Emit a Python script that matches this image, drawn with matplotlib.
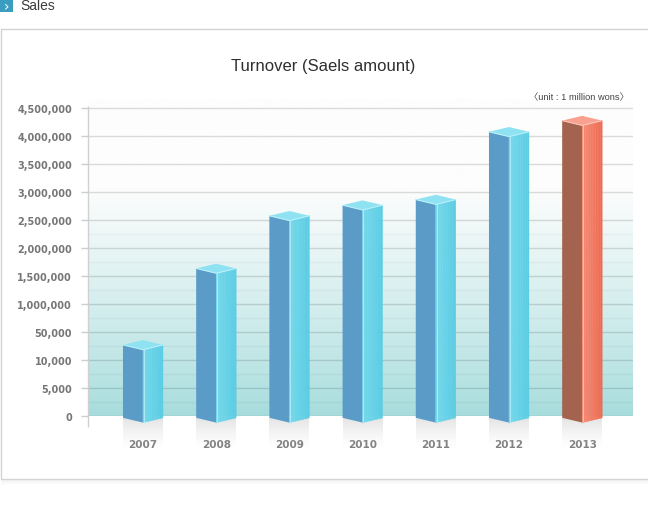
import numpy as np
import matplotlib
matplotlib.use('Agg')
import matplotlib.pyplot as plt
from matplotlib.patches import Polygon, Rectangle
from matplotlib.colors import to_rgb

# data
years = ['2007', '2008', '2009', '2010', '2011', '2012', '2013']
sales = [32000, 1640000, 2580000, 2770000, 2870000, 4080000, 4280000]
tick_values = [0, 5000, 10000, 50000, 1000000, 1500000, 2000000,
               2500000, 3000000, 3500000, 4000000, 4500000]
tick_labels = ['0', '5,000', '10,000', '50,000', '1,000,000', '1,500,000',
               '2,000,000', '2,500,000', '3,000,000', '3,500,000',
               '4,000,000', '4,500,000']
highlight_year = '2013'

W, H = 648, 510
fig = plt.figure(figsize=(W / 100, H / 100), dpi=100)
fig.patch.set_facecolor('white')


def fx(x):
    return x / W


def fy(y):
    return 1 - y / H


# header + panel
fig.patches.append(Rectangle((fx(0), fy(13)), fx(13), 13 / H, transform=fig.transFigure,
                             facecolor='#3b9ec1', edgecolor='none', zorder=-2))
fig.text(fx(6.5), fy(7), '›', color='white', fontsize=10, ha='center', va='center')
fig.text(fx(20), fy(6), 'Sales', color='#3c3c3c', fontsize=10,
         family='Liberation Sans', ha='left', va='center')
for k in range(6):
    fig.patches.append(Rectangle((fx(1), fy(481 + k)), fx(650), 1 / H, transform=fig.transFigure,
                                 facecolor='#000000', alpha=0.05 * (1 - k / 6),
                                 edgecolor='none', zorder=-2))
fig.patches.append(Rectangle((fx(0.5), fy(480)), fx(660), 450.5 / H, transform=fig.transFigure,
                             facecolor='white', edgecolor='#d4d4d4', lw=1, zorder=-1))
fig.text(fx(323), fy(67), 'Turnover (Saels amount)', color='#2e2e2e', fontsize=12,
         family='Liberation Sans', ha='center', va='center')
fig.text(fx(629), fy(98), '〈unit : 1 million wons〉', color='#444444', fontsize=6.7,
         family=['Liberation Sans', 'Noto Sans CJK KR'], ha='right', va='center')

# axes geometry
step_px = 28.0
zero_px = 417.3
top_px = 100
ax = fig.add_axes([fx(88), fy(zero_px), fx(545), (zero_px - top_px) / H])
ax.set_zorder(2)
ytop = (zero_px - top_px) / step_px
xmin = -0.751
xmax = xmin + 545 / 73.2
ax.set_xlim(xmin, xmax)
ax.set_ylim(0, ytop)
for s in ax.spines.values():
    s.set_visible(False)

# background gradient
t = np.linspace(0, 1, 300)
f = np.clip(t / 0.72, 0, 1) ** 0.85
bot = np.array(to_rgb('#a6dcdc'))
top = np.array(to_rgb('#fdfdfd'))
grad = bot[None, :] + (top - bot)[None, :] * f[:, None]
ax.imshow(grad[:, None, :], extent=[xmin, xmax, 0, ytop], aspect='auto',
          origin='lower', zorder=0, interpolation='bilinear')

levels = np.arange(len(tick_values))
grid_top = np.array(to_rgb('#dadada'))
grid_bot = np.array(to_rgb('#8ebfc3'))
for k in levels:
    u = min(1, (k / 8.0)) ** 0.9
    c = grid_bot + (grid_top - grid_bot) * u
    ax.axhline(k, color=c, lw=1, zorder=1)
    if k < 7:
        ax.axhline(k + 0.5, color=c, lw=1, alpha=0.25, zorder=1)

ax.vlines(xmin, -0.39, 11.07, color='#d0d0d0', lw=1, clip_on=False, zorder=1)

ax.set_yticks(levels, tick_labels)
ax.tick_params(axis='y', length=5, width=1, color='#c8cfcf', pad=6.5,
               labelsize=7, labelcolor='#767676')
ax.set_xticks(range(len(years)), years)
ax.tick_params(axis='x', length=0, pad=16.5, labelsize=7.5, labelcolor='#808080')
for lab in ax.get_yticklabels() + ax.get_xticklabels():
    lab.set_fontweight('bold')

# 3d bars
heights = np.interp(sales, tick_values, levels)
w = 40 / 73.2 / 2
d = 4.8 / step_px
b = -1.5 / step_px
blue = dict(left='#5b9bc7', r0='#74d8eb', r1='#5bcde4', cap='#8fe2f1', hi='#b9f0fa')
red = dict(left='#a3634e', r0='#f68a74', r1='#ee6b52', cap='#f8a18f', hi='#fcc6ba')

for i, (yr, h) in enumerate(zip(years, heights)):
    col = red if yr == highlight_year else blue
    x = i
    # reflection under the bar
    n = 14
    sh_len = 1.1
    for j in range(n):
        ax.add_patch(Rectangle((x - w, b - (j + 1) * sh_len / n), 2 * w, sh_len / n,
                               facecolor='#cfcfcf', alpha=0.55 * (1 - j / n) ** 1.5,
                               edgecolor='none', clip_on=False, zorder=2))
    ax.add_patch(Polygon([(x - w, b), (x, b - d), (x, h - d), (x - w, h)],
                         facecolor=col['left'], edgecolor='none', clip_on=False, zorder=3))
    c0 = np.array(to_rgb(col['r0']))
    c1 = np.array(to_rgb(col['r1']))
    m = 12
    for j in range(m):
        xa = x + w * j / m
        xb = x + w * (j + 1) / m
        ya = d * j / m
        yb = d * (j + 1) / m
        c = c0 + (c1 - c0) * (j / (m - 1))
        ax.add_patch(Polygon([(xa, b - d + ya), (xb, b - d + yb), (xb, h - d + yb), (xa, h - d + ya)],
                             facecolor=c, edgecolor=c, lw=0.3, clip_on=False, zorder=3))
    ax.add_patch(Polygon([(x - w, h), (x, h - d), (x + w, h), (x, h + d)],
                         facecolor=col['cap'], edgecolor='none', clip_on=False, zorder=4))
    ax.plot([x - w, x, x + w], [h, h - d, h], color=col['hi'], lw=0.8, zorder=5, clip_on=False)
    ax.plot([x + 0.01, x + 0.01], [b - d, h - d], color=col['hi'], lw=0.7, alpha=0.8,
            zorder=5, clip_on=False)

fig.savefig('out.png', dpi=100, facecolor='white')
